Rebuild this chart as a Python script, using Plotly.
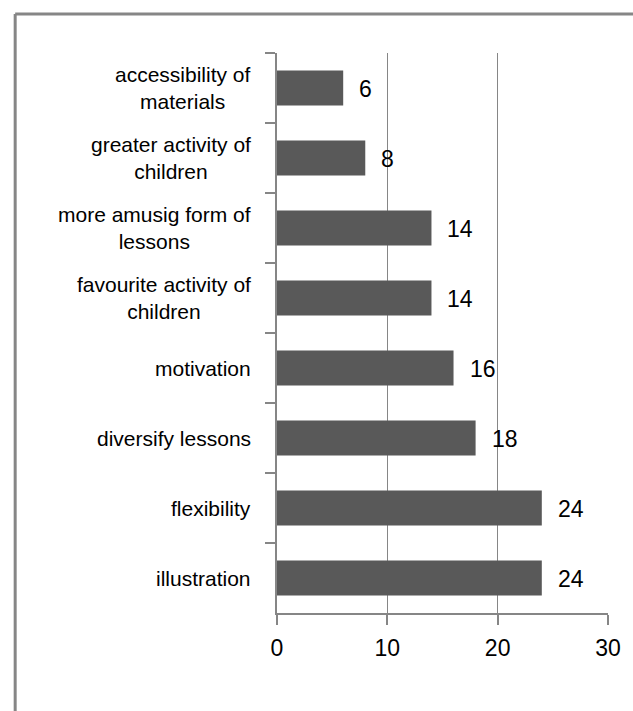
import plotly.graph_objects as go

categories = ["accessibility of<br>materials", "greater activity of<br>children",
              "more amusig form of<br>lessons", "favourite activity of<br>children",
              "motivation", "diversify lessons", "flexibility", "illustration"]
values = [6, 8, 14, 14, 16, 18, 24, 24]
x_ticks = [0, 10, 20, 30]

FONT = "Liberation Sans, Arial, sans-serif"
GRAY = "#868686"

fig = go.Figure()
fig.add_trace(go.Bar(
    x=values, y=categories, orientation="h",
    marker=dict(color="#595959", line=dict(width=0)),
    hoverinfo="skip",
))

annotations = []
for c, v in zip(categories, values):
    annotations.append(dict(x=v, y=c, xref="x", yref="y", text=str(v),
                            showarrow=False, xanchor="left", xshift=14, yshift=-1,
                            font=dict(family=FONT, size=23, color="black")))
    annotations.append(dict(x=0, y=c, xref="paper", yref="y", text=c,
                            showarrow=False, xanchor="right", align="center",
                            xshift=-24,
                            font=dict(family=FONT, size=21, color="black")))

fig.update_layout(
    width=633, height=711, autosize=False,
    margin=dict(l=277, r=21, t=53, b=98),
    paper_bgcolor="white", plot_bgcolor="white",
    bargap=0.5, showlegend=False,
    annotations=annotations,
    xaxis=dict(range=[0, 30], tickvals=x_ticks, ticktext=[str(t) for t in x_ticks],
               showgrid=True, gridcolor=GRAY, gridwidth=1, zeroline=False,
               showline=True, linecolor=GRAY, linewidth=2,
               ticks="outside", ticklen=10, tickcolor=GRAY, tickwidth=2,
               ticklabelstandoff=3,
               tickfont=dict(family=FONT, size=23, color="black"), fixedrange=True),
    yaxis=dict(categoryorder="array", categoryarray=categories, autorange="reversed",
               showticklabels=False, showgrid=False, zeroline=False,
               showline=True, linecolor=GRAY, linewidth=2,
               ticks="outside", tickson="boundaries", ticklen=10,
               tickcolor=GRAY, tickwidth=2, fixedrange=True),
    shapes=[
        dict(type="line", xref="paper", yref="paper", x0=-0.791, x1=1.2,
             y0=(613 - 14) / 560, y1=(613 - 14) / 560, line=dict(color=GRAY, width=3)),
        dict(type="line", xref="paper", yref="paper", x0=-0.791, x1=-0.791,
             y0=(613 - 14) / 560, y1=-0.3, line=dict(color=GRAY, width=3)),
    ],
)

fig.write_html("out.html")
